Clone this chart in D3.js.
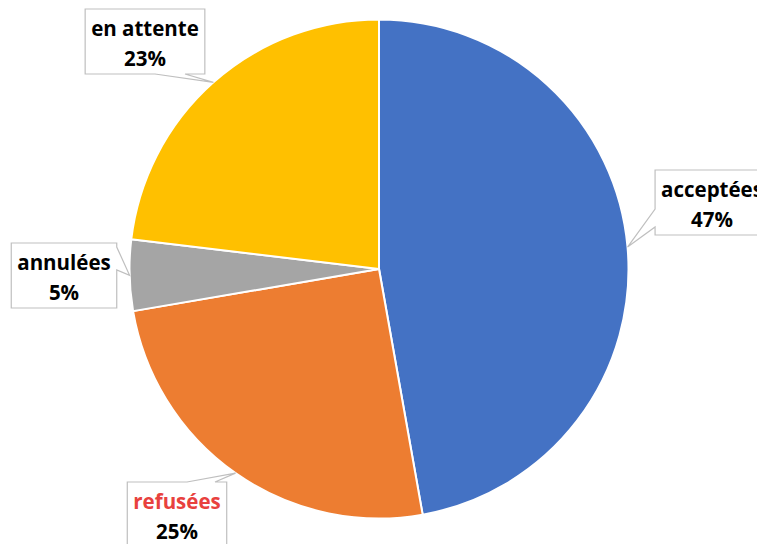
<!DOCTYPE html>
<html>
<head>
<meta charset="utf-8">
<script src="https://cdn.jsdelivr.net/npm/d3@7"></script>
<style>
  body { margin: 0; background: #fff; }
  svg text { font-family: "Open Sans", sans-serif; font-weight: bold; }
</style>
</head>
<body>
<div id="chart"></div>
<script>
// statut des demandes
const categories = ["acceptées", "refusées", "annulées", "en attente"];
const values = [47.2, 25.1, 4.6, 23.1];
const colors = ["#4472C4", "#ED7D31", "#A5A5A5", "#FFC000"];
const labelColors = ["#000", "#E8413E", "#000", "#000"];

// where each callout box sits and which side its pointer leaves from
const callouts = [
  { cx: 712, top: 170, side: "left",   base: [209, 227] },
  { cx: 177, top: 482, side: "top",    base: [187, 215] },
  { cx: 64,  top: 243, side: "right",  base: [247, 270] },
  { cx: 145, top: 9,   side: "bottom", base: [155, 185] }
];

const width = 757, height = 544;
const cx = 379, cy = 269, radius = 249.5;

const data = categories.map((c, i) => ({ name: c, value: values[i], i }));
const total = d3.sum(values);

const svg = d3.select("#chart").append("svg")
    .attr("width", width)
    .attr("height", height);

const pie = d3.pie().sort(null).value(d => d.value);
const arc = d3.arc().innerRadius(0).outerRadius(radius);
const arcs = pie(data);

const g = svg.append("g").attr("transform", `translate(${cx},${cy})`);

g.selectAll("path")
  .data(arcs)
  .join("path")
  .attr("d", arc)
  .attr("fill", d => colors[d.data.i])
  .attr("stroke", "#fff")
  .attr("stroke-width", 2)
  .attr("stroke-linejoin", "round");

// callouts
const fontSize = 20.5;
const boxH = 65, pad = 6;

const lab = svg.append("g");

arcs.forEach(a => {
  const c = callouts[a.data.i];
  const mid = (a.startAngle + a.endAngle) / 2;
  const tip = [cx + radius * Math.sin(mid), cy - radius * Math.cos(mid)];

  const grp = lab.append("g");
  const path = grp.append("path");

  const t1 = grp.append("text")
      .attr("x", c.cx)
      .attr("y", c.top + 27)
      .attr("text-anchor", "middle")
      .attr("font-size", fontSize)
      .attr("fill", labelColors[a.data.i])
      .text(a.data.name);
  const t2 = grp.append("text")
      .attr("x", c.cx)
      .attr("y", c.top + 57)
      .attr("text-anchor", "middle")
      .attr("font-size", fontSize)
      .attr("fill", "#000")
      .text(Math.round(a.data.value / total * 100) + "%");

  const w = Math.max(t1.node().getComputedTextLength(), t2.node().getComputedTextLength()) + pad * 2;
  const x0 = c.cx - w / 2, x1 = c.cx + w / 2, y0 = c.top, y1 = c.top + boxH;
  const [p, q] = c.base;

  const pts = [[x0, y0]];
  if (c.side === "top") pts.push([p, y0], tip, [q, y0]);
  pts.push([x1, y0]);
  if (c.side === "right") pts.push([x1, p], tip, [x1, q]);
  pts.push([x1, y1]);
  if (c.side === "bottom") pts.push([q, y1], tip, [p, y1]);
  pts.push([x0, y1]);
  if (c.side === "left") pts.push([x0, q], tip, [x0, p]);

  path.attr("d", d3.line()(pts) + "Z")
      .attr("fill", "#fff")
      .attr("stroke", "#BFBFBF")
      .attr("stroke-width", 1.2);
});
</script>
</body>
</html>
